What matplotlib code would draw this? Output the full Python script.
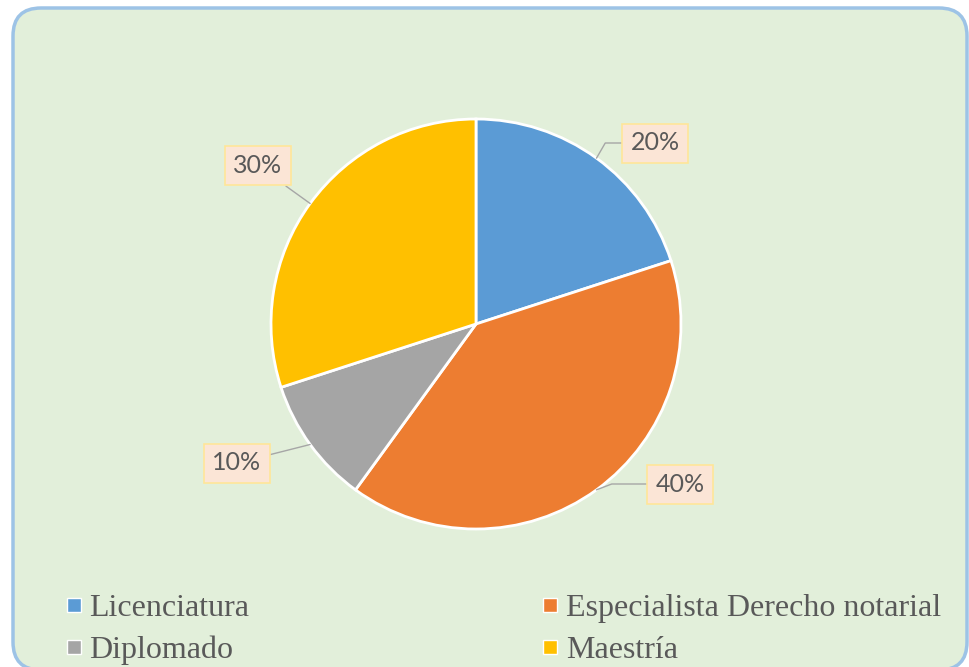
import matplotlib
matplotlib.use("Agg")
from matplotlib import pyplot as plt
from matplotlib.patches import FancyBboxPatch
from matplotlib.lines import Line2D
import numpy as np

categories = ["Licenciatura", "Especialista Derecho notarial", "Diplomado", "Maestría"]
values = [20, 40, 10, 30]
labels = ["20%", "40%", "10%", "30%"]
colors = ["#5B9BD5", "#ED7D31", "#A5A5A5", "#FFC000"]

# label box centres (pixels, y up) and leader line style
label_pos = [(655, 524), (680, 183), (237, 204), (258, 501)]
leader = ["angle,angleA=180,angleB=60", "angle,angleA=180,angleB=21",
          "arc3", "arc3"]

plt.rcParams["font.family"] = ["Liberation Serif", "DejaVu Serif"]
text_color = "#595959"

fig = plt.figure(figsize=(9.7, 6.67), dpi=100)
ax = fig.add_axes([0, 0, 1, 1])

bg = FancyBboxPatch((13, -3), 954, 662, boxstyle="round,pad=0,rounding_size=28",
                    facecolor="#E2EFDA", edgecolor="#9DC3E6", linewidth=2.5)
ax.add_patch(bg)

center = (476, 343)
radius = 205
wedges, _ = ax.pie(values, colors=colors, startangle=90, counterclock=False,
                   center=center, radius=radius, frame=True,
                   wedgeprops=dict(edgecolor="white", linewidth=2))
ax.set_xlim(0, 970)
ax.set_ylim(0, 667)
ax.set_aspect("equal")
ax.axis("off")

for w, lab, pos, cs in zip(wedges, labels, label_pos, leader):
    ang = np.deg2rad((w.theta1 + w.theta2) / 2)
    xy = (center[0] + radius * np.cos(ang), center[1] + radius * np.sin(ang))
    ax.annotate(lab, xy=xy, xytext=pos, ha="center", va="center",
                fontsize=18, color=text_color, family=["Lato", "DejaVu Sans"],
                bbox=dict(boxstyle="square,pad=0.32", facecolor="#FBE5D6",
                          edgecolor="#FFE699", linewidth=1.2),
                arrowprops=dict(arrowstyle="-", color="#A6A6A6", lw=1,
                                shrinkA=0, shrinkB=0, connectionstyle=cs))

# legend fills columns first: Licenciatura, Diplomado | Especialista, Maestría
order = [0, 2, 1, 3]
handles = [Line2D([], [], marker="s", linestyle="none", markersize=10,
                  markerfacecolor=colors[i], markeredgecolor="white", markeredgewidth=1)
           for i in order]
leg = ax.legend(handles, [categories[i] for i in order], ncol=2, frameon=False,
                loc="lower left", bbox_to_anchor=(64 / 970, 2 / 667),
                prop=dict(size=23), labelcolor=text_color,
                borderaxespad=0, borderpad=0,
                handlelength=0.6, handletextpad=0.2, columnspacing=9.1,
                labelspacing=0.4)

fig.savefig("out.png", dpi=100, facecolor="white")
